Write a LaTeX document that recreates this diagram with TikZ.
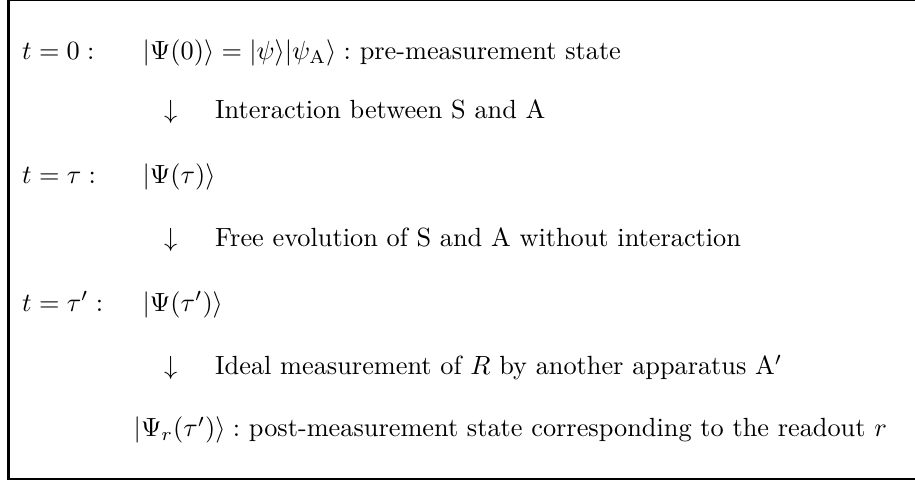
\documentclass[tikz,border=0pt]{standalone}
\usepackage{amsmath,amssymb}
\usetikzlibrary{positioning}
\tikzset{
  lbl/.style={anchor=base west,inner sep=0pt},
  dn/.style={anchor=base,inner sep=0pt},
}

\begin{document}
\begin{tikzpicture}
\useasboundingbox (0,0) rectangle (12.23,-6.44);
\draw[line width=1pt] (12.6,0) -- (0.11,0) -- (0.11,-6.40) -- (12.6,-6.40);

% times
\node[lbl] (t0) at (0.29,-0.80) {$t=0:$};
\node[lbl] (t1) at (0.29,-2.45) {$t=\tau:$};
\node[lbl] (t2) at (0.29,-4.16) {$t=\tau':$};

% states
\node[lbl] (s0) at (1.90,-0.80) {$|\Psi(0)\rangle=|\psi\rangle|\psi_{\mathrm{A}}\rangle:$ pre-measurement state};
\node[lbl] (s1) at (1.90,-2.45) {$|\Psi(\tau)\rangle$};
\node[lbl] (s2) at (1.90,-4.16) {$|\Psi(\tau')\rangle$};
\node[lbl] (s3) at (1.78,-5.84) {$|\Psi_r(\tau')\rangle:$ post-measurement state corresponding to the readout $r$};

% steps
\node[dn] (d1) at (2.28,-1.59) {$\downarrow$};
\node[dn] (d2) at (2.28,-3.30) {$\downarrow$};
\node[dn] (d3) at (2.28,-5.01) {$\downarrow$};
\node[lbl] (e1) at (2.87,-1.59) {Interaction between S and A};
\node[lbl] (e2) at (2.87,-3.30) {Free evolution of S and A without interaction};
\node[lbl] (e3) at (2.87,-5.01) {Ideal measurement of $R$ by another apparatus A$'$};
\end{tikzpicture}
\end{document}
